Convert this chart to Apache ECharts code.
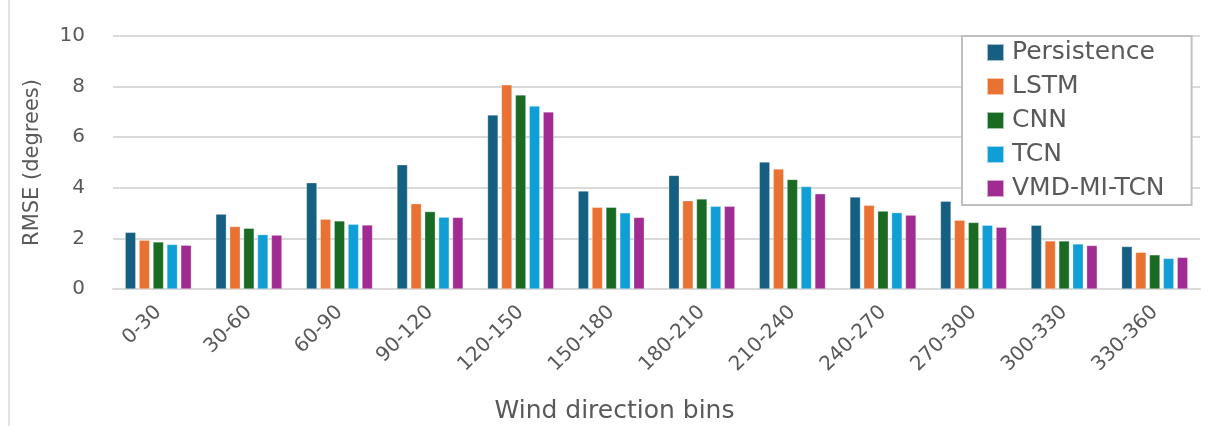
<!DOCTYPE html>
<html>
<head>
<meta charset="utf-8">
<script src="https://cdn.jsdelivr.net/npm/echarts@6/dist/echarts.min.js"></script>
<style>
  html, body { margin: 0; padding: 0; background: #fff; }
  #chart { width: 1214px; height: 426px; }
</style>
</head>
<body>
<div id="chart"></div>
<script>
// Wind direction bins (degrees)
const categories = ['0-30', '30-60', '60-90', '90-120', '120-150', '150-180',
                    '180-210', '210-240', '240-270', '270-300', '300-330', '330-360'];

// RMSE (degrees) per model
const persistence = [2.24, 2.96, 4.20, 4.91, 6.88, 3.87, 4.49, 5.02, 3.64, 3.47, 2.52, 1.68];
const lstm        = [1.93, 2.47, 2.76, 3.37, 8.07, 3.23, 3.49, 4.74, 3.31, 2.72, 1.90, 1.45];
const cnn         = [1.86, 2.40, 2.69, 3.06, 7.67, 3.23, 3.56, 4.33, 3.08, 2.63, 1.90, 1.35];
const tcn         = [1.76, 2.15, 2.56, 2.84, 7.23, 3.01, 3.27, 4.05, 3.02, 2.52, 1.78, 1.21];
const vmdMiTcn    = [1.73, 2.13, 2.53, 2.83, 7.00, 2.83, 3.27, 3.76, 2.92, 2.44, 1.72, 1.25];

const yTicks = [0, 2, 4, 6, 8, 10];

const seriesDefs = [
  { name: 'Persistence', data: persistence, color: '#156082' },
  { name: 'LSTM',        data: lstm,        color: '#E97132' },
  { name: 'CNN',         data: cnn,         color: '#196B24' },
  { name: 'TCN',         data: tcn,         color: '#0F9ED5' },
  { name: 'VMD-MI-TCN',  data: vmdMiTcn,    color: '#A02B93' }
];

const textColor = '#595959';
const fontFamily = 'DejaVu Sans, sans-serif';

const chart = echarts.init(document.getElementById('chart'), null, { renderer: 'canvas' });

chart.setOption({
  animation: false,
  backgroundColor: '#ffffff',
  textStyle: { fontFamily: fontFamily, color: textColor },
  grid: { left: 113, right: 14, top: 36, bottom: 137, containLabel: false, outerBoundsMode: 'none' },
  legend: {
    orient: 'vertical',
    left: 962,
    top: 36,
    padding: [4, 27, 4, 24],
    itemWidth: 17,
    itemHeight: 17,
    itemGap: 9,
    borderColor: '#bfbfbf',
    borderWidth: 2,
    backgroundColor: '#ffffff',
    icon: 'rect',
    textStyle: { fontSize: 25, lineHeight: 25, color: textColor, fontFamily: fontFamily, padding: [0, 0, 0, 3] },
    data: seriesDefs.map(s => s.name)
  },
  xAxis: {
    type: 'category',
    data: categories,
    name: 'Wind direction bins',
    nameLocation: 'middle',
    nameGap: 110,
    nameTextStyle: { fontSize: 25, color: textColor, fontFamily: fontFamily, padding: [0, 84, 0, 0] },
    axisLine: { show: true, lineStyle: { color: '#d9d9d9', width: 2 } },
    axisTick: { show: false },
    axisLabel: { rotate: 45, fontSize: 20, color: textColor, margin: 20, fontFamily: fontFamily }
  },
  yAxis: {
    type: 'value',
    min: yTicks[0],
    max: yTicks[yTicks.length - 1],
    interval: yTicks[1] - yTicks[0],
    name: 'RMSE (degrees)',
    nameLocation: 'middle',
    nameGap: 70,
    nameRotate: 90,
    nameTextStyle: { fontSize: 21, color: textColor, fontFamily: fontFamily },
    axisLine: { show: false },
    axisTick: { show: false },
    axisLabel: { fontSize: 20, color: textColor, margin: 28, fontFamily: fontFamily },
    splitLine: { lineStyle: { color: '#d9d9d9', width: 2 } }
  },
  series: seriesDefs.map(s => ({
    name: s.name,
    type: 'bar',
    data: s.data,
    barGap: '32%',
    barCategoryGap: '27%',
    itemStyle: { color: s.color, borderColor: 'rgba(255,255,255,0.6)', borderWidth: 0.5 }
  })),
  graphic: [
    {
      type: 'line',
      shape: { x1: 9, y1: 0, x2: 9, y2: 426 },
      style: { stroke: '#d9d9d9', lineWidth: 1.5 },
      silent: true
    }
  ]
});
</script>
</body>
</html>
